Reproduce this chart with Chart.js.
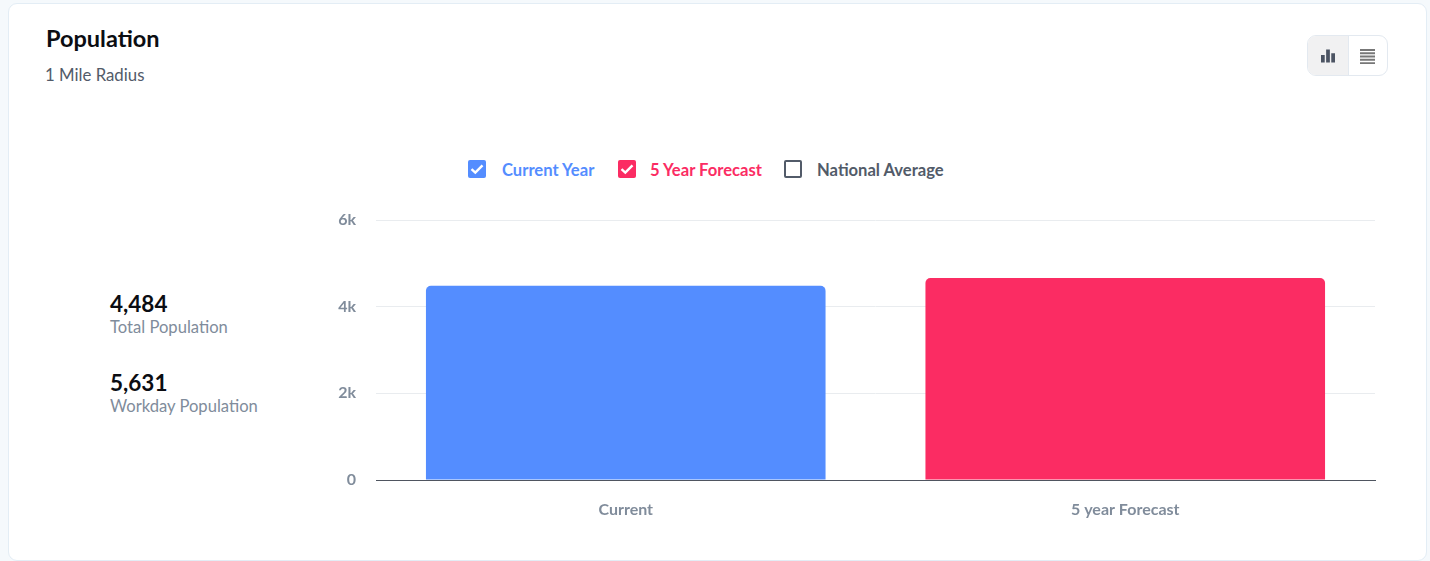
<!DOCTYPE html>
<html>
<head>
<meta charset="utf-8">
<title>Population</title>
<script src="https://cdn.jsdelivr.net/npm/chart.js@4"></script>
<style>
  html, body { margin: 0; padding: 0; }
  body {
    width: 1430px;
    height: 561px;
    background: #f5f9fc;
    font-family: Lato, sans-serif;
    overflow: hidden;
    position: relative;
  }
  .card {
    position: absolute;
    left: 8px;
    top: 3px;
    width: 1417px;
    height: 556px;
    background: #fff;
    border: 1px solid #e3edf5;
    border-radius: 9px;
  }
  .abs { position: absolute; white-space: nowrap; line-height: 1; }
  #title { left: 46px; top: 27px; font-size: 23.5px; font-weight: 700; color: #0b0d12; }
  #subtitle { left: 45px; top: 67px; font-size: 16.8px; color: #525b69; }
  .stat-value { left: 110px; font-size: 22.5px; font-weight: 700; color: #0b0d12; }
  .stat-label { left: 110px; font-size: 16.6px; color: #808c9b; }
  #toggle {
    position: absolute;
    left: 1307px;
    top: 35px;
    width: 79px;
    height: 39px;
    border: 1px solid #e3e9f0;
    border-radius: 9px;
    overflow: hidden;
    background: #fff;
  }
  #toggle .on { position: absolute; left: 0; top: 0; width: 40px; height: 39px; background: #f1f1f2; border-right: 1px solid #e3e9f0; }
  #toggle svg { position: absolute; top: 13px; }
  .box {
    position: absolute;
    top: 160px;
    width: 18px;
    height: 18px;
    box-sizing: border-box;
    border-radius: 2px;
  }
  .legend-text { top: 162px; font-size: 16.6px; font-weight: 700; }
  #chartWrap { position: absolute; left: 320px; top: 200px; width: 1060px; height: 340px; }
</style>
</head>
<body>
<div class="card"></div>
<div class="abs" id="title">Population</div>
<div class="abs" id="subtitle">1 Mile Radius</div>

<div class="abs stat-value" style="top:293px">4,484</div>
<div class="abs stat-label" style="top:319px">Total Population</div>
<div class="abs stat-value" style="top:372px">5,631</div>
<div class="abs stat-label" style="top:398px">Workday Population</div>

<div id="toggle">
  <div class="on"></div>
  <svg style="left:13px" width="14" height="14" viewBox="0 0 15 14"><path fill="#4c5463" d="M0 6h4v8H0zM5.500 0h4v14h-4zM11 4h4v10h-4z"/></svg>
  <svg style="left:52px" width="15" height="15" viewBox="0 0 16 16"><path fill="#777" d="M0 0h16v2H0zM0 3.500h16v2H0zM0 7h16v2H0zM0 10.500h16v2H0zM0 14h16v2H0z"/></svg>
</div>

<div id="legend"></div>

<div id="chartWrap"><canvas id="myChart"></canvas></div>

<script>
const categories = ["Current", "5 year Forecast"];
const values = [4484, 4660];
const barColors = ["#548dff", "#fb2c63"];
const yTicks = [0, 2000, 4000, 6000];

const legendNames = ["Current Year", "5 Year Forecast", "National Average"];
const legendColors = ["#548dff", "#fb2c63", "#525b69"];
const legendChecked = [true, true, false];
const legendBoxX = [468, 618, 784];
const legendTextX = [502, 650, 817];

const legend = document.getElementById("legend");
legendNames.forEach(function (name, i) {
  const box = document.createElement("div");
  box.className = "box";
  box.style.left = legendBoxX[i] + "px";
  if (legendChecked[i]) {
    box.style.background = legendColors[i];
    box.innerHTML =
      '<svg width="18" height="18" viewBox="0 0 18 18"><path d="M3.500 9.200l3.800 3.500L14.500 5.300" fill="none" stroke="#fff" stroke-width="2.400"/></svg>';
  } else {
    box.style.border = "2px solid " + legendColors[i];
  }
  legend.appendChild(box);

  const text = document.createElement("div");
  text.className = "abs legend-text";
  text.style.left = legendTextX[i] + "px";
  text.style.color = legendColors[i];
  text.textContent = name;
  legend.appendChild(text);
});

const ctx = document.getElementById("myChart");
const myChart = new Chart(ctx, {
  type: "bar",
  data: {
    labels: categories,
    datasets: [
      {
        data: values,
        backgroundColor: barColors,
        barPercentage: 0.8,
        categoryPercentage: 1,
        borderRadius: { topLeft: 5, topRight: 5, bottomLeft: 0, bottomRight: 0 },
        borderSkipped: false,
      },
    ],
  },
  options: {
    responsive: true,
    maintainAspectRatio: false,
    animation: false,
    layout: { padding: { top: 20, right: 5, left: 0, bottom: 0 } },
    plugins: {
      legend: { display: false },
      tooltip: { enabled: false },
    },
    scales: {
      x: {
        afterFit: function (scale) {
          scale.height = 60;
        },
        grid: { display: false },
        border: { display: true, color: "#4f5560", width: 1, z: 1 },
        ticks: {
          color: "#808c9b",
          padding: 12,
          font: { family: "Lato", size: 16, weight: "700" },
        },
      },
      y: {
        min: 0,
        max: 6000,
        afterFit: function (scale) {
          scale.width = 56;
          // tick padding otherwise pushes the top of the plot down
          scale.paddingTop = 0;
          scale.paddingBottom = 0;
        },
        afterBuildTicks: function (scale) {
          scale.ticks = yTicks.map(function (v) {
            return { value: v };
          });
        },
        grid: {
          color: "#e9ecef",
          drawTicks: false,
        },
        border: { display: false },
        ticks: {
          color: "#808c9b",
          padding: 20,
          font: { family: "Lato", size: 16, weight: "700" },
          callback: function (value) {
            return value === 0 ? "0" : value / 1000 + "k";
          },
        },
      },
    },
  },
});
</script>
</body>
</html>
